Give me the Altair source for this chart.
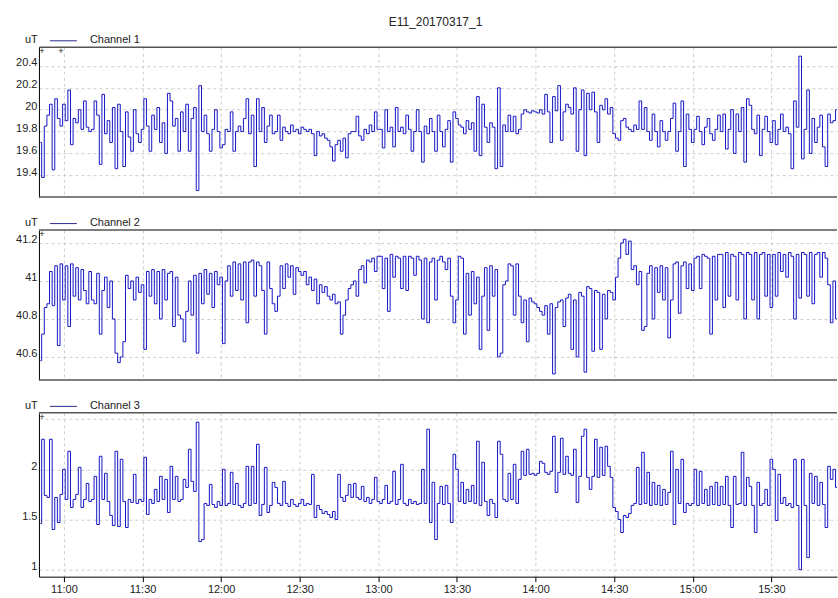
import altair as alt
import pandas as pd

TITLE = "E11_20170317_1"
UNIT = "uT"
NAMES = ["Channel 1", "Channel 2", "Channel 3"]

# one sample per minute, 10:51 .. 15:56
START = "2017-03-17 10:51:00"
N = 306

ch1_a = [19.70, 19.38, 19.85, 19.95, 20.05, 19.45, 20.10, 19.92, 19.85, 20.05,
         19.90, 20.18, 19.68, 19.92, 19.88, 20.00, 19.82, 20.08, 19.84, 19.80,
         19.82, 20.08, 19.95, 19.50, 20.14, 19.78, 19.90, 19.70, 20.02, 19.46,
         20.05, 19.80, 19.48, 19.98, 19.75, 19.62, 20.00, 19.78, 19.70, 19.82,
         20.10, 19.85, 19.62, 19.95, 19.82, 20.02, 19.70, 19.88, 19.60, 20.15,
         20.08, 19.85, 19.92, 19.62, 19.98, 19.80, 20.05, 19.62, 19.92, 20.02,
         19.26, 20.22, 19.80, 19.95, 19.78, 19.62, 19.82, 20.00, 19.80, 19.65,
         19.68, 19.82, 19.80, 19.98, 19.62, 19.80, 19.85, 19.80, 19.92, 20.10,
         19.78, 19.95, 19.48, 20.10, 19.80, 20.02, 19.70, 19.85, 19.95, 19.78,
         19.80, 19.95, 19.72, 19.84, 19.80, 19.78, 19.86, 19.80, 19.82, 19.78]
ch1_b = [19.84, 19.82, 19.80, 19.82, 19.78, 19.58, 19.80, 19.76, 19.78, 19.74,
         19.72, 19.66, 19.53, 19.68, 19.72, 19.62, 19.74, 19.56, 19.78, 19.80,
         19.80, 19.94, 19.76, 19.72, 19.82, 19.78, 19.86, 19.80, 19.98, 19.82,
         19.82, 19.65, 20.00, 19.80, 19.84, 19.66, 20.02, 19.80, 19.84, 19.78,
         19.95, 19.82, 19.62, 19.80, 20.00, 19.80, 19.52, 19.85, 19.78, 19.92,
         19.80, 19.62, 19.95, 19.80, 19.66, 19.82, 19.90, 19.52, 19.98, 19.92,
         19.86, 19.84, 19.78, 19.90, 19.82, 19.88, 19.62, 20.12, 19.58, 20.05,
         19.84, 19.70, 19.88, 19.84, 19.46, 20.20, 19.48, 19.86, 19.80, 19.95,
         19.80, 19.94, 19.78, 19.82, 19.96, 20.00, 19.98, 19.97, 19.99, 19.98,
         19.97, 20.00, 19.96, 20.14, 19.98, 19.70, 20.12, 19.99, 20.22, 19.72]
ch1_c = [19.98, 20.05, 20.02, 19.96, 20.20, 19.62, 20.00, 20.18, 19.58, 20.15,
         20.00, 20.16, 19.98, 19.70, 20.04, 20.00, 20.10, 19.96, 20.02, 19.78,
         19.74, 19.72, 19.90, 19.92, 19.84, 19.82, 19.80, 19.86, 19.82, 20.08,
         19.82, 20.02, 19.80, 19.72, 19.96, 19.80, 19.66, 19.90, 19.80, 19.72,
         19.80, 19.92, 20.06, 19.62, 19.80, 20.08, 19.48, 19.96, 19.82, 19.70,
         19.82, 19.94, 19.80, 19.68, 19.84, 19.92, 19.78, 19.72, 19.82, 19.95,
         19.80, 19.96, 19.64, 19.82, 20.00, 19.60, 19.96, 19.80, 20.02, 19.52,
         20.10, 20.04, 19.82, 19.78, 19.95, 19.58, 19.82, 19.94, 19.80, 19.70,
         19.90, 19.68, 19.82, 19.96, 19.80, 19.84, 19.78, 19.46, 20.08, 19.84,
         20.49, 19.55, 19.82, 20.18, 19.60, 19.92, 19.70, 19.84, 19.95, 19.66,
         19.48, 19.96, 19.88, 19.90, 20.00, 19.82]

ch2_a = [40.58, 40.72, 40.86, 40.88, 41.05, 40.87, 41.08, 40.66, 41.09, 40.90,
         41.08, 40.76, 41.09, 40.92, 41.07, 40.90, 41.06, 40.95, 40.88, 41.05,
         40.90, 40.88, 41.04, 40.72, 40.95, 41.02, 40.86, 41.00, 40.80, 40.62,
         40.57, 40.60, 40.68, 41.03, 40.96, 41.00, 40.90, 41.02, 40.94, 40.98,
         40.64, 41.05, 40.92, 41.06, 40.88, 41.05, 40.80, 41.06, 40.90, 41.04,
         41.05, 40.76, 41.02, 40.82, 40.80, 40.68, 40.84, 41.00, 40.82, 41.03,
         40.62, 41.04, 40.88, 41.06, 40.93, 41.04, 40.86, 41.05, 40.98, 41.02,
         40.67, 41.00, 41.08, 40.92, 41.10, 40.95, 41.09, 40.90, 41.10, 40.78,
         41.10, 41.11, 40.92, 41.10, 41.08, 40.95, 40.72, 41.10, 40.96, 40.88,
         40.84, 40.92, 41.08, 40.96, 41.09, 41.02, 41.08, 40.93, 41.07, 41.05]
ch2_b = [41.03, 41.05, 40.98, 41.02, 40.95, 41.01, 40.88, 40.98, 40.94, 40.97,
         40.92, 40.90, 40.93, 40.88, 40.89, 40.72, 40.82, 40.90, 40.96, 40.98,
         41.00, 40.92, 41.06, 41.08, 40.99, 41.11, 41.10, 41.12, 41.05, 41.13,
         41.13, 40.96, 41.12, 40.84, 41.14, 41.02, 41.13, 41.12, 40.96, 41.13,
         40.95, 41.13, 41.12, 41.03, 41.13, 41.11, 40.80, 41.12, 40.78, 41.10,
         41.12, 40.90, 41.11, 41.13, 41.10, 41.06, 41.12, 40.92, 40.78, 40.90,
         41.13, 41.12, 40.72, 41.04, 40.82, 41.05, 40.88, 41.02, 40.64, 40.92,
         41.07, 40.74, 41.08, 40.92, 41.06, 40.60, 40.62, 40.98, 41.00, 41.09,
         41.08, 40.82, 41.09, 40.92, 40.78, 40.90, 40.68, 40.91, 40.89, 40.88,
         40.86, 40.84, 40.82, 40.87, 40.72, 40.88, 40.51, 40.86, 40.89, 40.90]
ch2_c = [40.76, 40.91, 40.93, 40.64, 40.90, 40.60, 40.94, 40.92, 40.52, 40.97,
         40.96, 40.63, 40.95, 40.94, 40.64, 40.93, 40.80, 40.95, 40.94, 40.90,
         41.02, 41.12, 41.20, 41.22, 41.14, 41.21, 41.06, 41.08, 40.98, 41.05,
         40.74, 40.76, 41.04, 41.08, 40.80, 41.07, 40.94, 41.08, 40.90, 41.07,
         40.70, 40.90, 41.09, 41.10, 40.83, 41.08, 41.10, 40.96, 41.09, 40.95,
         41.12, 41.13, 40.96, 41.14, 41.13, 41.12, 40.72, 41.13, 40.90, 41.14,
         41.14, 40.86, 41.15, 40.92, 41.14, 41.13, 40.90, 41.15, 41.14, 40.80,
         41.15, 41.14, 40.90, 41.15, 40.80, 41.14, 41.15, 40.92, 41.14, 40.86,
         41.14, 40.92, 41.15, 41.05, 41.14, 41.02, 41.15, 41.13, 40.80, 41.14,
         40.91, 41.15, 41.14, 40.92, 41.15, 40.88, 41.14, 41.15, 41.02, 41.15,
         41.12, 40.98, 40.78, 41.00, 40.80, 41.02]

ch3_a = [1.46, 2.30, 1.74, 1.72, 2.30, 1.40, 1.72, 1.47, 1.75, 2.00,
         1.70, 2.18, 1.62, 1.70, 1.75, 2.02, 1.62, 1.70, 1.86, 1.68,
         1.70, 1.93, 1.45, 2.13, 1.70, 1.96, 1.68, 1.54, 1.44, 2.18,
         1.43, 2.10, 1.68, 1.42, 1.70, 1.67, 1.95, 1.66, 1.70, 1.68,
         2.12, 1.55, 1.70, 1.66, 1.80, 1.68, 1.93, 1.70, 1.90, 1.57,
         2.03, 1.70, 1.93, 1.68, 1.70, 1.90, 1.82, 2.20, 1.88, 1.78,
         2.47, 1.28, 1.30, 1.66, 1.64, 1.85, 1.65, 1.62, 1.68, 1.64,
         2.00, 1.64, 1.66, 1.97, 1.65, 1.86, 1.64, 1.62, 1.66, 2.03,
         1.64, 2.03, 1.66, 2.25, 1.54, 1.65, 2.02, 1.57, 1.64, 1.87,
         1.82, 1.66, 1.64, 1.88, 1.66, 1.63, 1.70, 1.65, 1.63, 1.66]
ch3_b = [1.70, 1.64, 1.66, 1.65, 1.95, 1.52, 1.64, 1.60, 1.56, 1.58,
         1.55, 1.52, 1.58, 1.50, 1.95, 1.72, 1.68, 1.74, 1.85, 1.72,
         1.86, 1.72, 1.70, 1.83, 1.68, 1.72, 1.66, 1.70, 1.92, 1.68,
         1.66, 1.70, 1.84, 1.66, 1.68, 1.98, 1.65, 1.70, 2.05, 1.66,
         1.64, 1.70, 1.66, 1.68, 1.65, 1.66, 2.00, 1.66, 2.40, 1.47,
         1.87, 1.30, 1.66, 1.83, 1.65, 1.84, 1.66, 1.47, 2.15, 2.00,
         1.68, 1.87, 1.66, 1.80, 1.68, 1.84, 1.66, 2.28, 1.64, 2.07,
         1.68, 1.54, 1.70, 1.66, 1.52, 2.28, 2.15, 1.70, 1.68, 1.96,
         1.70, 2.05, 1.66, 1.90, 2.18, 1.94, 2.20, 1.95, 1.96, 1.94,
         1.96, 2.08, 2.06, 1.97, 1.95, 1.98, 2.33, 1.77, 1.97, 2.31]
ch3_c = [1.95, 2.13, 1.96, 1.94, 2.20, 1.67, 1.93, 2.33, 2.40, 1.92,
         1.80, 1.93, 2.30, 1.92, 2.22, 1.94, 2.23, 2.03, 1.92, 1.62,
         1.58, 1.50, 1.37, 1.54, 1.52, 1.56, 1.64, 1.66, 2.02, 1.65,
         2.17, 1.66, 1.97, 1.64, 1.87, 1.65, 1.84, 1.64, 1.80, 1.65,
         1.77, 2.18, 1.45, 2.00, 1.66, 2.10, 1.57, 1.66, 1.64, 1.66,
         2.00, 1.64, 1.98, 1.66, 1.80, 1.64, 1.83, 1.65, 1.87, 1.64,
         1.83, 1.65, 1.93, 1.64, 1.42, 1.93, 1.65, 1.66, 2.17, 1.64,
         1.92, 1.83, 1.64, 1.37, 1.87, 1.64, 1.66, 1.80, 1.64, 2.10,
         2.00, 1.49, 1.95, 1.66, 1.72, 1.64, 1.66, 1.62, 2.10, 1.64,
         1.00, 2.10, 1.64, 1.12, 1.96, 1.66, 1.93, 1.64, 1.87, 1.65,
         1.42, 2.03, 1.90, 2.00, 1.82, 1.95]

Y1_TICKS = [19.4, 19.6, 19.8, 20.0, 20.2, 20.4]
Y2_TICKS = [40.6, 40.8, 41.0, 41.2]
Y3_TICKS = [1.0, 1.5, 2.0, 2.5]
Y1_DOMAIN = [19.2, 20.571]
Y2_DOMAIN = [40.479, 41.268]
Y3_DOMAIN = [0.93, 2.563]
X_TICK_HM = [(11, 0), (11, 30), (12, 0), (12, 30), (13, 0), (13, 30),
             (14, 0), (14, 30), (15, 0), (15, 30)]

FONT = "Liberation Sans"
BLUE = "#1616c6"
GRID = "#cdcdcd"
W = 799

times = pd.date_range(START, periods=N, freq="min").strftime("%Y-%m-%dT%H:%M:%S")


def dt(h, m, s=0):
    return alt.DateTime(year=2017, month=3, date=17, hours=h, minutes=m, seconds=s)


X_DOMAIN = [dt(10, 50, 28), dt(15, 55, 3)]
X_TICKS = [dt(h, m) for h, m in X_TICK_HM]
one = alt.Data(values=[{"k": 0}])


def panel(values, name, dom, yticks, height, bottom, label_expr, first=False):
    df = pd.DataFrame({"t": list(times), "v": values})
    if bottom:
        xaxis = alt.Axis(values=X_TICKS, format="%H:%M", grid=True, gridColor=GRID,
                         gridDash=[3, 3], title=None, tickSize=5, tickColor="black",
                         domainColor="black", labelFont=FONT, labelFontSize=11,
                         labelColor="#222", labelPadding=2, labelFlush=False)
    else:
        xaxis = alt.Axis(values=X_TICKS, grid=True, gridColor=GRID, gridDash=[3, 3],
                         title=None, labels=False, ticks=False, domain=False,
                         minExtent=0, maxExtent=0)
    yaxis = alt.Axis(values=yticks, grid=True, gridColor=GRID, gridDash=[3, 3],
                     title=None, ticks=False, labelPadding=2, domainColor="black",
                     labelFont=FONT, labelFontSize=11, labelColor="#222",
                     labelBaseline="alphabetic", labelExpr=label_expr,
                     minExtent=39, maxExtent=39)
    line = alt.Chart(df).mark_line(color=BLUE, strokeWidth=1, interpolate="step",
                                   clip=True).encode(
        x=alt.X("t:T", scale=alt.Scale(domain=X_DOMAIN), axis=xaxis),
        y=alt.Y("v:Q", scale=alt.Scale(domain=dom, zero=False, nice=False), axis=yaxis),
    )
    layers = [line]
    layers.append(alt.Chart(one).mark_rule(color="#555", strokeWidth=1.5).encode(
        x=alt.value(0), x2=alt.value(W), y=alt.value(0)))
    if not bottom:
        layers.append(alt.Chart(one).mark_rule(color="#555", strokeWidth=1.5).encode(
            x=alt.value(0), x2=alt.value(W), y=alt.value(height)))
    layers.append(alt.Chart(one).mark_text(text=UNIT, align="left", baseline="middle",
                                           font=FONT, fontSize=11, color="#222").encode(
        x=alt.value(-14), y=alt.value(-7)))
    layers.append(alt.Chart(one).mark_rule(color="#2a2a90", strokeWidth=1).encode(
        x=alt.value(11), x2=alt.value(38), y=alt.value(-6.5)))
    layers.append(alt.Chart(one).mark_text(text=name, align="left", baseline="middle",
                                           font=FONT, fontSize=11, color="#222").encode(
        x=alt.value(51), y=alt.value(-7)))
    layers.append(alt.Chart(one).mark_text(text="+", align="center", baseline="middle",
                                           font=FONT, fontSize=10, color="#222").encode(
        x=alt.value(3), y=alt.value(4)))
    if first:
        layers.append(alt.Chart(one).mark_text(text="+", align="center", baseline="middle",
                                               font=FONT, fontSize=10, color="#222").encode(
            x=alt.value(22), y=alt.value(4)))
        layers.append(alt.Chart(one).mark_text(text=TITLE, align="center", baseline="middle",
                                               font=FONT, fontSize=12, color="#222").encode(
            x=alt.value(397), y=alt.value(-25)))
        layers.append(alt.Chart(one).mark_rule(strokeOpacity=0).encode(
            x=alt.value(-39), x2=alt.value(-38), y=alt.value(-47), y2=alt.value(-46)))
    return alt.layer(*layers).properties(width=W, height=height)


p1 = panel(ch1_a + ch1_b + ch1_c, NAMES[0], Y1_DOMAIN, Y1_TICKS, 150, False,
           "'' + datum.value", first=True)
p2 = panel(ch2_a + ch2_b + ch2_c, NAMES[1], Y2_DOMAIN, Y2_TICKS, 150, False,
           "'' + datum.value")
p3 = panel(ch3_a + ch3_b + ch3_c, NAMES[2], Y3_DOMAIN, Y3_TICKS, 164, True,
           "datum.value == 2.5 ? '' : '' + datum.value")

chart = alt.vconcat(p1, p2, p3, spacing=33, bounds="flush").properties(
    padding=0
).configure_view(stroke=None)

chart.save("out.html", embed_options={"renderer": "svg", "actions": False})
